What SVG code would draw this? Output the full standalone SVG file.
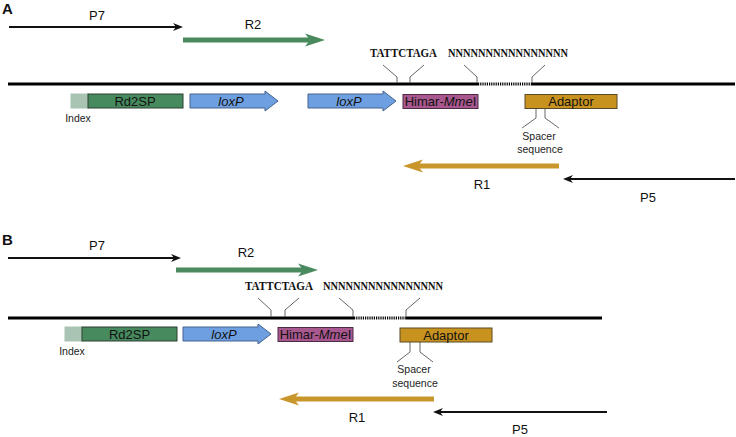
<svg xmlns="http://www.w3.org/2000/svg" width="736" height="437" viewBox="0 0 736 437">
<style>
text{font-family:"Liberation Sans",Arial,sans-serif;fill:#111}
.lbl{font-size:13px;text-anchor:middle}
.sm{font-size:10.5px;text-anchor:middle;fill:#222}
.pl{font-size:15px;font-weight:bold}
.seq{font-family:"Liberation Serif","Times New Roman",serif;font-weight:bold;font-size:12.5px}
.bl{stroke:#111;stroke-width:2;fill:none}
.gr{stroke:#4a8a5f;stroke-width:5;fill:none}
.or{stroke:#c9962b;stroke-width:5;fill:none}
.dna{stroke:#000;stroke-width:3;fill:none}
.dot{stroke:#000;stroke-width:3;stroke-dasharray:1.2 1;fill:none}
.ld{stroke:#555;stroke-width:0.9;fill:none}
.idx{fill:#a9c4b2;stroke:#a9c4b2}
.rd{fill:#478a5e;stroke:#2e3f33;stroke-width:1}
.lox{fill:#6e9fe0;stroke:#44638f;stroke-width:1}
.him{fill:#a9588f;stroke:#4d2a44;stroke-width:1}
.ad{fill:#c8921f;stroke:#5b4a28;stroke-width:1}
</style>
<g id="panelA">
<text class="pl" x="2" y="14">A</text>
<g id="connectorsA">
<line class="bl" x1="9" y1="27" x2="176" y2="27"/>
<path d="M183,27 L173,23 L176,27 L173,31 Z" fill="#111"/>
<line class="gr" x1="183" y1="40" x2="312" y2="40"/>
<path d="M325,40 L305,33.5 L310,40 L305,46.5 Z" fill="#4a8a5f"/>
<line class="or" x1="559" y1="166" x2="416" y2="166"/>
<path d="M403,166 L423,159.5 L418,166 L423,172.5 Z" fill="#c9962b"/>
<line class="bl" x1="735" y1="179" x2="570" y2="179"/>
<path d="M563,179 L573,175 L570,179 L573,183 Z" fill="#111"/>
<path class="dna" d="M8,84 H478 M532,84 H735"/>
<path class="dot" d="M478,84 H532"/>
<path class="ld" d="M383,65 L397,77 V83 M424,65 L410,77 V83 M464,65 L477,77 V83 M545,65 L532,77 V83"/>
<path class="ld" d="M536,108 V118 L522,128 M545,108 V118 L559,128"/>
</g>
<text class="lbl" x="97" y="20">P7</text>
<text class="lbl" x="253" y="29">R2</text>
<text class="lbl" x="482" y="189">R1</text>
<text class="lbl" x="648" y="202">P5</text>
<text class="seq" x="370" y="57" textLength="67" lengthAdjust="spacingAndGlyphs">TATTCTAGA</text>
<text class="seq" x="448" y="57" textLength="120" lengthAdjust="spacingAndGlyphs">NNNNNNNNNNNNNNNN</text>
<g id="indexA"><rect class="idx" x="71" y="94" width="17" height="14"/><text class="sm" x="78" y="122" font-size="11">Index</text></g>
<g id="rd2spA"><rect class="rd" x="88" y="94" width="95" height="14"/><text class="lbl" x="135" y="105.5">Rd2SP</text></g>
<g id="loxP1A"><path class="lox" d="M190,94 H265 V91 L278,101 L265,111 V108 H190 Z"/><text class="lbl" x="231" y="105.5" font-style="italic">loxP</text></g>
<g id="loxP2A"><path class="lox" d="M308,94 H383 V91 L396,101 L383,111 V108 H308 Z"/><text class="lbl" x="349" y="105.5" font-style="italic">loxP</text></g>
<g id="himarA"><rect class="him" x="403" y="94.5" width="75" height="14"/><text class="lbl" x="440.5" y="106">Himar-<tspan font-style="italic">Mme</tspan>I</text></g>
<g id="adaptorA"><rect class="ad" x="525" y="94.5" width="92" height="14"/><text class="lbl" x="571" y="106">Adaptor</text></g>
<g id="spacerA"><text class="sm" x="539" y="140">Spacer</text><text class="sm" x="540" y="153">sequence</text></g>
</g>
<g id="panelB">
<text class="pl" x="2" y="245">B</text>
<g id="connectorsB">
<line class="bl" x1="8" y1="258" x2="174" y2="258"/>
<path d="M181,258 L171,254 L174,258 L171,262 Z" fill="#111"/>
<line class="gr" x1="176" y1="270" x2="305" y2="270"/>
<path d="M318,270 L298,263.5 L303,270 L298,276.5 Z" fill="#4a8a5f"/>
<line class="or" x1="434" y1="399" x2="292" y2="399"/>
<path d="M279,399 L299,392.5 L294,399 L299,405.5 Z" fill="#c9962b"/>
<line class="bl" x1="607" y1="412" x2="440" y2="412"/>
<path d="M433,412 L443,408 L440,412 L443,416 Z" fill="#111"/>
<path class="dna" d="M8,318 H354 M406,318 H602"/>
<path class="dot" d="M354,318 H406"/>
<path class="ld" d="M258,298 L271,310 V317 M299,298 L285,310 V317 M339,298 L353,310 V317 M420,298 L406,310 V317"/>
<path class="ld" d="M410,342 V352 L397,362 M420,342 V352 L433,362"/>
</g>
<text class="lbl" x="97" y="250">P7</text>
<text class="lbl" x="246" y="257">R2</text>
<text class="lbl" x="357" y="422">R1</text>
<text class="lbl" x="520" y="434">P5</text>
<text class="seq" x="245" y="290" textLength="68" lengthAdjust="spacingAndGlyphs">TATTCTAGA</text>
<text class="seq" x="323" y="290" textLength="120" lengthAdjust="spacingAndGlyphs">NNNNNNNNNNNNNNNN</text>
<g id="indexB"><rect class="idx" x="65" y="327" width="17" height="14"/><text class="sm" x="72" y="355" font-size="11">Index</text></g>
<g id="rd2spB"><rect class="rd" x="82" y="327" width="95" height="14"/><text class="lbl" x="129.5" y="338.5">Rd2SP</text></g>
<g id="loxPB"><path class="lox" d="M183,327 H258 V324 L271,334 L258,344 V341 H183 Z"/><text class="lbl" x="224" y="338.5" font-style="italic">loxP</text></g>
<g id="himarB"><rect class="him" x="278" y="327.5" width="75" height="14"/><text class="lbl" x="315.5" y="339">Himar-<tspan font-style="italic">Mme</tspan>I</text></g>
<g id="adaptorB"><rect class="ad" x="400" y="328" width="92" height="14"/><text class="lbl" x="446" y="339.5">Adaptor</text></g>
<g id="spacerB"><text class="sm" x="414" y="373">Spacer</text><text class="sm" x="415" y="387">sequence</text></g>
</g>
</svg>
